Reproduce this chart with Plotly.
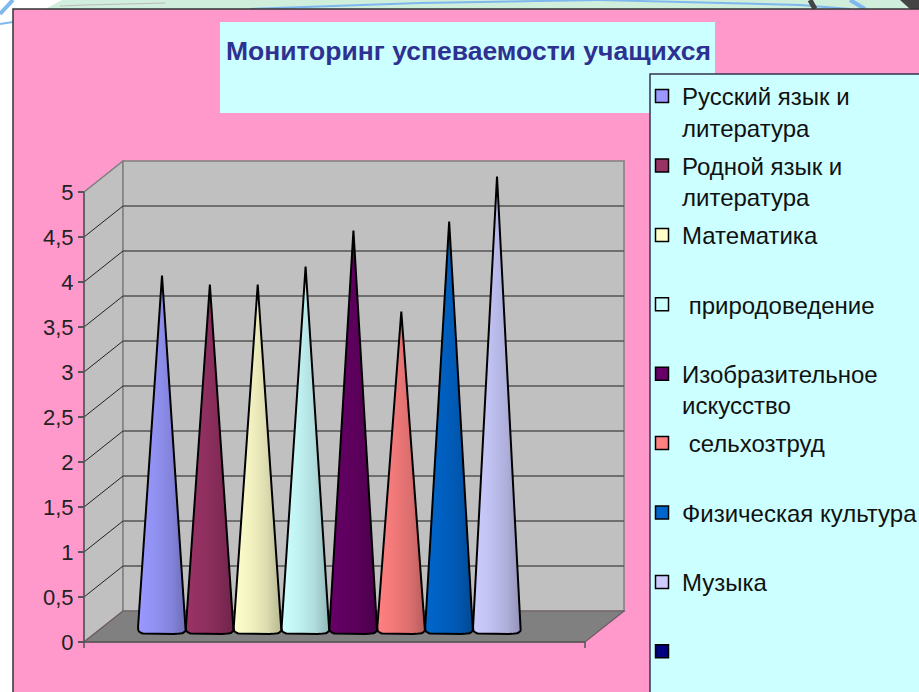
import plotly.graph_objects as go
import numpy as np

SUBJECTS = ["Русский язык и<br>литература", "Родной язык и<br>литература", "Математика<br>&nbsp;",
            "\u00a0природоведение<br>&nbsp;", "Изобразительное<br>искусство", "\u00a0сельхозтруд<br>&nbsp;",
            "Физическая культура<br>&nbsp;", "Музыка<br>&nbsp;", "&nbsp;"]
VALUES = [3.9, 3.8, 3.8, 4.0, 4.4, 3.5, 4.5, 5.0]
COLORS = ["#9999FF", "#993366", "#FFFFCC", "#CCFFFF", "#660066", "#FF8080", "#0066CC", "#CCCCFF", "#000080"]
TICK_VALUES = [0, 0.5, 1, 1.5, 2, 2.5, 3, 3.5, 4, 4.5, 5]
TICK_LABELS = ["0", "0,5", "1", "1,5", "2", "2,5", "3", "3,5", "4", "4,5", "5"]
TITLE = "Мониторинг успеваемости учащихся"

W, H = 919, 692
PX_PER_X, PX_PER_Y = 47.86, 90.0
X0_PX, Y0_PX = 162.0, 642.0
XR = [(0 - X0_PX) / PX_PER_X, (W - X0_PX) / PX_PER_X]
YR = [(Y0_PX - H) / PX_PER_Y, Y0_PX / PX_PER_Y]
X_LEFT, X_RIGHT = (84 - X0_PX) / PX_PER_X, (585 - X0_PX) / PX_PER_X
DX, DY = 39 / PX_PER_X, 31 / PX_PER_Y
BASE = 15.5 / PX_PER_Y
HW, BOT = 0.5, 7.5 / PX_PER_Y


def pxpath(points):
    return "M" + " L".join(f"{x / W:.5f},{1 - y / H:.5f}" for x, y in points) + " Z"


def datapath(points):
    return "M" + " L".join(f"{x:.4f},{y:.4f}" for x, y in points) + " Z"


def shade(hexc, f):
    r, g, b = (int(hexc[i:i + 2], 16) for i in (1, 3, 5))
    return f"rgb({int(r * f)},{int(g * f)},{int(b * f)})"


shapes = []


def paper_poly(points, fill, lw=0, lc="rgba(0,0,0,0)"):
    shapes.append(dict(type="path", xref="paper", yref="paper", path=pxpath(points), fillcolor=fill,
                       line=dict(width=lw, color=lc), layer="below"))


def paper_line(pts, color, width):
    for (a, b), (c, d) in zip(pts[:-1], pts[1:]):
        shapes.append(dict(type="line", xref="paper", yref="paper", x0=a / W, x1=c / W, y0=1 - b / H, y1=1 - d / H,
                           line=dict(color=color, width=width), layer="below"))


# surroundings of the slide
paper_poly([(45, 9), (62, 0), (919, 0), (919, 9)], "#CFEEDC")
paper_line([(60, 6), (85, 5), (165, 3)], "#BBBBBB", 1)
paper_line([(250, 9), (420, 3), (600, 0), (800, 5), (850, 9)], "#7FB8EE", 2)
paper_line([(850, 0), (865, 9)], "#7FB8EE", 4)
paper_line([(810, 0), (815, 9)], "#444444", 5)
paper_poly([(900, 0), (919, 0), (919, 9), (910, 9)], "#444444")
paper_line([(13, 0), (0, 14)], "#7FB8EE", 4)
paper_line([(0, 24), (13, 22)], "#7FB8EE", 2)
# chart area, title box, legend box
paper_poly([(13, 9), (W + 2, 9), (W + 2, H + 2), (13, H + 2)], "#FF99CC", 1.5, "#333333")
paper_poly([(220, 22), (715, 22), (715, 113), (220, 113)], "#CCFFFF")
paper_poly([(650, 74), (W + 2, 74), (W + 2, H + 2), (650, H + 2)], "#CCFFFF", 1.5, "#333355")

# plot walls and floor, in axis units
xl, xr = X_LEFT, X_RIGHT
top = max(TICK_VALUES)
wall = dict(xref="x", yref="y", type="path", layer="below")
shapes.append(dict(wall, path=datapath([(xl, 0), (xl, top), (xl + DX, top + DY), (xl + DX, DY)]),
                   fillcolor="#C0C0C0", line=dict(color="#808080", width=1.5)))
shapes.append(dict(wall, path=datapath([(xl + DX, DY), (xl + DX, top + DY), (xr + DX, top + DY), (xr + DX, DY)]),
                   fillcolor="#C0C0C0", line=dict(color="#808080", width=1.5)))
for t in TICK_VALUES[1:-1]:
    shapes.append(dict(type="line", xref="x", yref="y", x0=xl + DX, x1=xr + DX, y0=t + DY, y1=t + DY,
                       line=dict(color="#555555", width=1.5), layer="below"))
for t in TICK_VALUES[1:]:
    shapes.append(dict(type="line", xref="x", yref="y", x0=xl, x1=xl + DX, y0=t, y1=t + DY,
                       line=dict(color="#222222" if t < top else "#808080", width=1), layer="below"))
shapes.append(dict(wall, path=datapath([(xl, 0), (xr, 0), (xr + DX, DY), (xl + DX, DY)]),
                   fillcolor="#808080", line=dict(color="#6E5A66", width=1.2)))
for a, b, c, d in [(xl, 0, xl, top), (xl, 0, xr, 0)]:
    shapes.append(dict(type="line", xref="x", yref="y", x0=a, x1=c, y0=b, y1=d,
                       line=dict(color="#555555", width=1.5), layer="below"))
shapes.append(dict(type="line", xref="x", yref="y", x0=xr, x1=xr, y0=0, y1=-6 / PX_PER_Y,
                   line=dict(color="#555555", width=1.5), layer="below"))
shapes.append(dict(type="line", xref="x", yref="y", x0=xl, x1=xl, y0=0, y1=-6 / PX_PER_Y,
                   line=dict(color="#555555", width=1.5), layer="below"))

fig = go.Figure()

# cones (one series per subject)
theta = np.linspace(0, np.pi, 25)
for i, (v, c) in enumerate(zip(VALUES, COLORS)):
    cosv, sinv = np.cos(theta), np.sin(theta)
    bx = i + HW * np.sign(cosv) * np.abs(cosv) ** 0.35
    by = BASE - BOT * sinv ** 0.5
    xs = [i] + list(bx) + [i]
    ys = [v + BASE] + list(by) + [v + BASE]
    fig.add_trace(go.Scatter(
        x=xs, y=ys, mode="lines", fill="toself", showlegend=False, hoverinfo="skip",
        line=dict(color="#000000", width=2),
        fillgradient=dict(type="horizontal", colorscale=[[0, c], [0.35, shade(c, 0.95)], [0.7, shade(c, 0.86)], [1, shade(c, 0.72)]]),
    ))

# legend entries
for name, c in zip(SUBJECTS, COLORS):
    fig.add_trace(go.Scatter(
        x=[None], y=[None], mode="markers", name=name, legendgroup=name,
        marker=dict(symbol="square", size=13, color=c, line=dict(color="#000000", width=1.5)),
    ))

fig.update_layout(
    width=W, height=H, autosize=False,
    margin=dict(l=0, r=0, t=0, b=0, autoexpand=False),
    paper_bgcolor="#FFFFFF", plot_bgcolor="rgba(0,0,0,0)",
    font=dict(family="Liberation Sans, Arial, sans-serif", color="#111111"),
    title=dict(text=f"<b>{TITLE}</b>", font=dict(size=26.5, color="#2E3192"), x=468.5 / W, xanchor="center",
               y=1 - 51 / H, yanchor="middle", xref="paper", yref="paper"),
    xaxis=dict(range=XR, domain=[0, 1], visible=False, fixedrange=True),
    yaxis=dict(range=YR, domain=[0, 1], anchor="free", position=84 / W, tickmode="array",
               tickvals=TICK_VALUES, ticktext=TICK_LABELS, ticks="outside", ticklen=6, tickwidth=1.5,
               tickcolor="#555555", tickfont=dict(size=22, color="#222222"), showgrid=False, zeroline=False,
               showline=False, fixedrange=True),
    legend=dict(x=648 / W, xanchor="left", y=1 - 74 / H, yanchor="top", bgcolor="rgba(0,0,0,0)",
                borderwidth=0, font=dict(size=24, color="#111111"), tracegroupgap=4, valign="top",
                indentation=-6, itemclick=False, itemdoubleclick=False),
    shapes=shapes,
    showlegend=True,
)
fig.write_html("out.html", config=dict(displayModeBar=False),
               post_script="document.body.style.margin='0';document.documentElement.style.overflow='hidden';")
